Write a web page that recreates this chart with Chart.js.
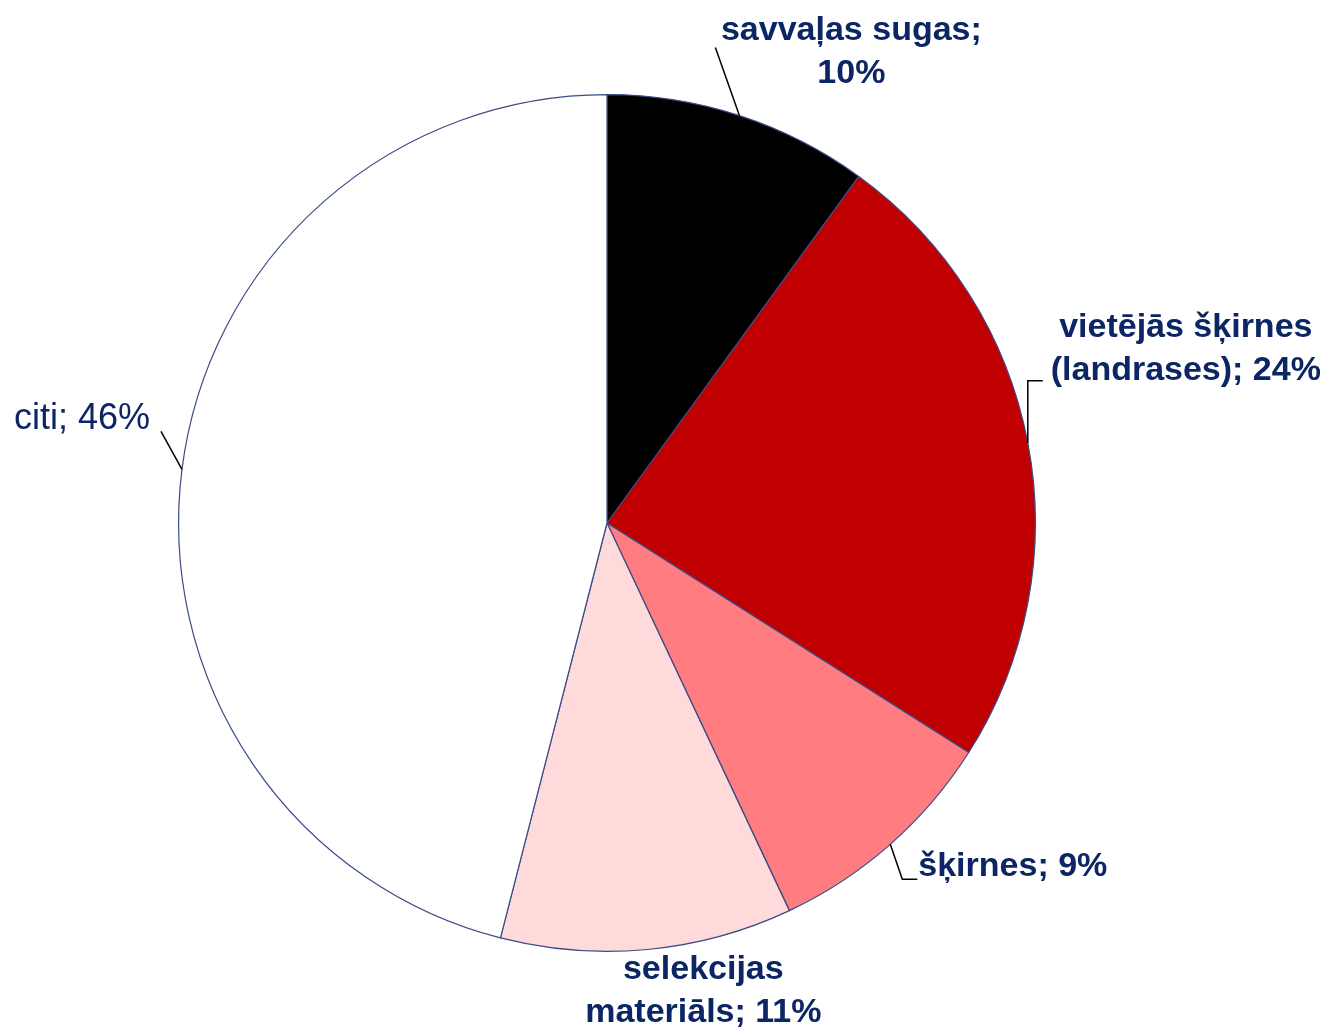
<!DOCTYPE html>
<html>
<head>
<meta charset="utf-8">
<script src="https://cdn.jsdelivr.net/npm/chart.js@4.4.0/dist/chart.umd.min.js"></script>
<style>
  html, body { margin: 0; padding: 0; background: #fff; }
  #wrap { width: 1330px; height: 1029px; }
</style>
</head>
<body>
<div id="wrap"><canvas id="myChart"></canvas></div>
<script>
// data
var categories = ["savvaļas sugas", "vietējās šķirnes (landrases)", "šķirnes", "selekcijas materiāls", "citi"];
var shares = [10, 24, 9, 11, 46];
var sliceColors = ["#000000", "#C00000", "#FF7C80", "#FFDADA", "#FFFFFF"];

// label text lines and placement relative to the slice's outer mid-point
var labelLines = [
  ["savvaļas sugas;", "10%"],
  ["vietējās šķirnes", "(landrases); 24%"],
  ["šķirnes; 9%"],
  ["selekcijas", "materiāls; 11%"],
  ["citi; 46%"]
];
var labelPlace = [
  { dx: 112, dy: -85, align: "center", bold: true, leader: [[-24, -68]] },
  { dx: 158, dy: -115, align: "center", bold: true, leader: [[0, -62], [15, -62]] },
  { dx: 28, dy: 22, align: "left", bold: true, leader: [[12, 35], [27, 35]] },
  { dx: 56, dy: 20, align: "center", bold: true, leader: null },
  { dx: -32, dy: -50, align: "right", bold: false, leader: [[-21, -38]] }
];

var pieLabels = {
  id: "pieLabels",
  afterDraw: function (chart) {
    var c = chart.ctx;
    var meta = chart.getDatasetMeta(0);
    meta.data.forEach(function (arc, i) {
      var mid = (arc.startAngle + arc.endAngle) / 2;
      var x0 = arc.x + Math.cos(mid) * arc.outerRadius;
      var y0 = arc.y + Math.sin(mid) * arc.outerRadius;
      var p = labelPlace[i];
      if (p.leader) {
        c.save();
        c.strokeStyle = "#000000";
        c.lineWidth = 1.5;
        c.beginPath();
        c.moveTo(x0, y0);
        p.leader.forEach(function (pt) { c.lineTo(x0 + pt[0], y0 + pt[1]); });
        c.stroke();
        c.restore();
      }
      c.save();
      c.fillStyle = "#0B2565";
      c.font = (p.bold ? "bold 34px" : "36px") + " 'Liberation Sans', Arial, sans-serif";
      c.textAlign = p.align;
      c.textBaseline = "middle";
      labelLines[i].forEach(function (line, k) {
        c.fillText(line, x0 + p.dx, y0 + p.dy + k * 43);
      });
      c.restore();
    });
  }
};

var ctx = document.getElementById("myChart").getContext("2d");
var chart = new Chart(ctx, {
  type: "pie",
  data: {
    labels: categories,
    datasets: [
      {
        data: shares,
        backgroundColor: sliceColors,
        borderColor: "#3A4A86",
        borderWidth: 1.2
      }
    ]
  },
  options: {
    responsive: true,
    maintainAspectRatio: false,
    animation: false,
    layout: { padding: { top: 94, bottom: 77, left: 178, right: 294 } },
    plugins: {
      legend: { display: false },
      tooltip: { enabled: false }
    }
  },
  plugins: [pieLabels]
});
</script>
</body>
</html>
